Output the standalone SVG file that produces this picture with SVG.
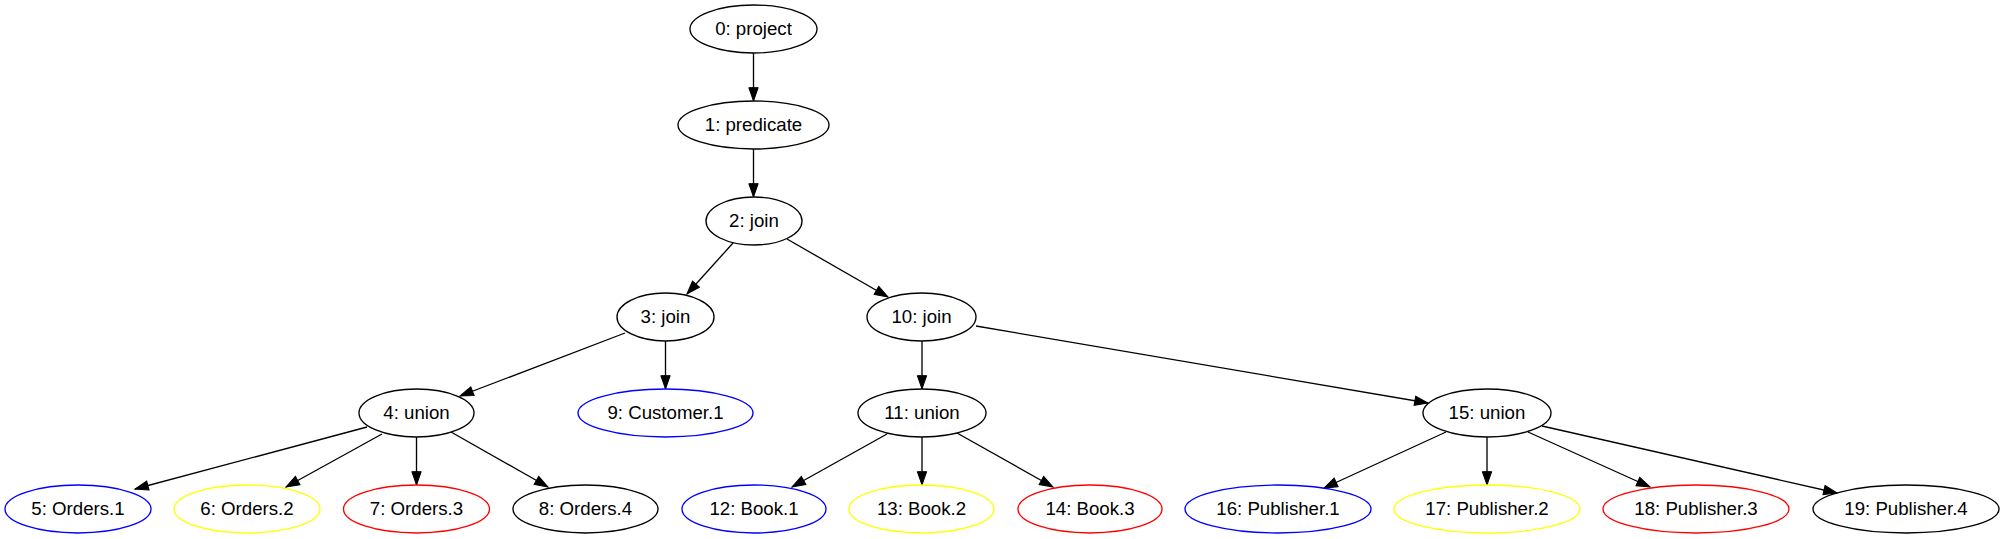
<svg xmlns="http://www.w3.org/2000/svg" width="2004" height="539" viewBox="0 0 2004 539">
<style>
.n ellipse{fill:none;stroke-width:1.33}
.n text{font-family:"Liberation Sans",Arial,sans-serif;font-size:18.67px;text-anchor:middle;fill:#000}
.k ellipse{stroke:#000}
.b ellipse{stroke:#0000ff}
.y ellipse{stroke:#ffff00}
.r ellipse{stroke:#ff0000}
#edges line{stroke:#000;stroke-width:1.33;marker-end:url(#arr)}
</style>
<defs>
<marker id="arr" markerUnits="userSpaceOnUse" markerWidth="16" markerHeight="12" refX="13.33" refY="5" orient="auto" viewBox="0 0 16 10" overflow="visible">
<path d="M0,0.33 L13.33,5 L0,9.67 Z" fill="#000" stroke="#000" stroke-width="1"/>
</marker>
</defs>
<rect width="2004" height="539" fill="#fff"/>
<g id="edges">
<line x1="753.5" y1="53" x2="753.5" y2="101"/>
<line x1="753.5" y1="149" x2="753.5" y2="197"/>
<line x1="733" y1="243" x2="687" y2="294"/>
<line x1="787" y1="239" x2="888" y2="297"/>
<line x1="625" y1="333" x2="460" y2="396"/>
<line x1="665.5" y1="341" x2="665.5" y2="389"/>
<line x1="367" y1="427" x2="135" y2="489"/>
<line x1="382" y1="434" x2="286" y2="487"/>
<line x1="416.5" y1="437" x2="416.5" y2="485"/>
<line x1="451" y1="432" x2="548" y2="487"/>
<line x1="922" y1="341" x2="922" y2="389"/>
<line x1="976" y1="326" x2="1428" y2="403"/>
<line x1="887" y1="434" x2="792" y2="487"/>
<line x1="922" y1="437" x2="922" y2="485"/>
<line x1="957" y1="433" x2="1053" y2="487"/>
<line x1="1446" y1="432" x2="1324" y2="488"/>
<line x1="1487" y1="437" x2="1487" y2="485"/>
<line x1="1528" y1="432" x2="1650" y2="487"/>
<line x1="1542" y1="426" x2="1837" y2="493"/>
</g>
<g id="node0" class="n k"><ellipse cx="753.5" cy="29" rx="63.5" ry="24"/><text x="753.5" y="35">0: project</text></g>
<g id="node1" class="n k"><ellipse cx="753.5" cy="125" rx="75.5" ry="24"/><text x="753.5" y="131">1: predicate</text></g>
<g id="node2" class="n k"><ellipse cx="754" cy="221" rx="48" ry="24"/><text x="754" y="227">2: join</text></g>
<g id="node3" class="n k"><ellipse cx="665.5" cy="317" rx="48.5" ry="24"/><text x="665.5" y="323">3: join</text></g>
<g id="node10" class="n k"><ellipse cx="921.5" cy="317" rx="54.5" ry="24"/><text x="921.5" y="323">10: join</text></g>
<g id="node4" class="n k"><ellipse cx="416.5" cy="413" rx="57.5" ry="24"/><text x="416.5" y="419">4: union</text></g>
<g id="node9" class="n b"><ellipse cx="665.5" cy="413" rx="87.5" ry="24"/><text x="665.5" y="419">9: Customer.1</text></g>
<g id="node11" class="n k"><ellipse cx="922" cy="413" rx="64" ry="24"/><text x="922" y="419">11: union</text></g>
<g id="node15" class="n k"><ellipse cx="1487" cy="413" rx="64" ry="24"/><text x="1487" y="419">15: union</text></g>
<g id="node5" class="n b"><ellipse cx="78" cy="509" rx="73" ry="24"/><text x="78" y="515">5: Orders.1</text></g>
<g id="node6" class="n y"><ellipse cx="247" cy="509" rx="73" ry="24"/><text x="247" y="515">6: Orders.2</text></g>
<g id="node7" class="n r"><ellipse cx="416.5" cy="509" rx="73" ry="24"/><text x="416.5" y="515">7: Orders.3</text></g>
<g id="node8" class="n k"><ellipse cx="585.5" cy="509" rx="72.5" ry="24"/><text x="585.5" y="515">8: Orders.4</text></g>
<g id="node12" class="n b"><ellipse cx="754" cy="509" rx="72" ry="24"/><text x="754" y="515">12: Book.1</text></g>
<g id="node13" class="n y"><ellipse cx="921.5" cy="509" rx="72.5" ry="24"/><text x="921.5" y="515">13: Book.2</text></g>
<g id="node14" class="n r"><ellipse cx="1090" cy="509" rx="72" ry="24"/><text x="1090" y="515">14: Book.3</text></g>
<g id="node16" class="n b"><ellipse cx="1278" cy="509" rx="93" ry="24"/><text x="1278" y="515">16: Publisher.1</text></g>
<g id="node17" class="n y"><ellipse cx="1487" cy="509" rx="93" ry="24"/><text x="1487" y="515">17: Publisher.2</text></g>
<g id="node18" class="n r"><ellipse cx="1696" cy="509" rx="93" ry="24"/><text x="1696" y="515">18: Publisher.3</text></g>
<g id="node19" class="n k"><ellipse cx="1906" cy="509" rx="93" ry="24"/><text x="1906" y="515">19: Publisher.4</text></g>
</svg>
